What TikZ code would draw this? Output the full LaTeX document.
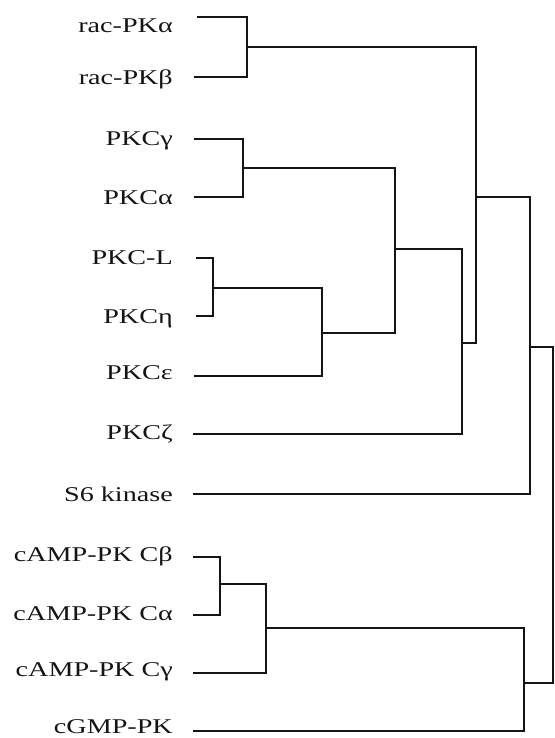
\documentclass[tikz,border=0pt]{standalone}
\usepackage{fontspec}
\newfontfamily\leafFont{Liberation Serif}[FakeStretch=1.34]
\usetikzlibrary{positioning}
\definecolor{treeInk}{HTML}{141414}
\tikzset{
  leafLabel/.style={
    anchor=east,
    inner sep=0pt,
    text=treeInk,
    font=\leafFont\fontsize{21}{25}\selectfont
  },
  treeEdge/.style={treeInk, line width=2pt, line join=miter}
}

\begin{document}
\begin{tikzpicture}[x=1pt,y=-1pt]
  \useasboundingbox (0,0) rectangle (554,738);

  % leaves
  \node[leafLabel] (racA) at (173,26)  {rac-PKα};
  \node[leafLabel] (racB) at (173,79)  {rac-PKβ};
  \node[leafLabel] (pkcG) at (173,141) {PKCγ};
  \node[leafLabel] (pkcA) at (173,198) {PKCα};
  \node[leafLabel] (pkcL) at (173,258) {PKC-L};
  \node[leafLabel] (pkcH) at (173,319) {PKCη};
  \node[leafLabel] (pkcE) at (173,373) {PKCε};
  \node[leafLabel] (pkcZ) at (173,434) {PKCζ};
  \node[leafLabel] (sSix) at (173,494) {S6 kinase};
  \node[leafLabel] (camB) at (173,556) {cAMP-PK Cβ};
  \node[leafLabel] (camA) at (173,614) {cAMP-PK Cα};
  \node[leafLabel] (camG) at (173,672) {cAMP-PK Cγ};
  \node[leafLabel] (cgmp) at (173,727) {cGMP-PK};

  % joins
  \coordinate (nRac)     at (247,47);
  \coordinate (nPKCga)   at (243,168);
  \coordinate (nPKCLh)   at (213,288);
  \coordinate (nPKCLe)   at (322,333);
  \coordinate (nPKCcore) at (395,249);
  \coordinate (nPKCall)  at (462,343);
  \coordinate (nRacPKC)  at (476,197);
  \coordinate (nAGC)     at (530,347);
  \coordinate (nCab)     at (220,584);
  \coordinate (nCamp)    at (266,628);
  \coordinate (nCyc)     at (524,683);
  \coordinate (nRoot)    at (553,515);

  \draw[treeEdge] ([xshift=24pt,yshift=9pt]racA.east) -| (nRac);
  \draw[treeEdge] ([xshift=21pt,yshift=2pt]racB.east) -| (nRac);
  \draw[treeEdge] ([xshift=21pt,yshift=2pt]pkcG.east) -| (nPKCga);
  \draw[treeEdge] ([xshift=21pt,yshift=1pt]pkcA.east) -| (nPKCga);
  \draw[treeEdge] ([xshift=23pt]pkcL.east) -| (nPKCLh);
  \draw[treeEdge] ([xshift=23pt,yshift=3pt]pkcH.east) -| (nPKCLh);
  \draw[treeEdge] ([xshift=21pt,yshift=-3pt]pkcE.east) -| (nPKCLe);
  \draw[treeEdge] ([xshift=20pt]pkcZ.east) -| (nPKCall);
  \draw[treeEdge] ([xshift=20pt]sSix.east) -| (nAGC);
  \draw[treeEdge] ([xshift=20pt,yshift=-1pt]camB.east) -| (nCab);
  \draw[treeEdge] ([xshift=20pt,yshift=-1pt]camA.east) -| (nCab);
  \draw[treeEdge] ([xshift=20pt,yshift=-1pt]camG.east) -| (nCamp);
  \draw[treeEdge] ([xshift=20pt,yshift=-4pt]cgmp.east) -| (nCyc);

  \draw[treeEdge] (nRac) -| (nRacPKC);
  \draw[treeEdge] (nPKCLh) -| (nPKCLe);
  \draw[treeEdge] (nPKCga) -| (nPKCcore);
  \draw[treeEdge] (nPKCLe) -| (nPKCcore);
  \draw[treeEdge] (nPKCcore) -| (nPKCall);
  \draw[treeEdge] (nPKCall) -| (nRacPKC);
  \draw[treeEdge] (nRacPKC) -| (nAGC);
  \draw[treeEdge] (nAGC) -| (nRoot);
  \draw[treeEdge] (nCab) -| (nCamp);
  \draw[treeEdge] (nCamp) -| (nCyc);
  \draw[treeEdge] (nCyc) -| (nRoot);
\end{tikzpicture}
\end{document}
